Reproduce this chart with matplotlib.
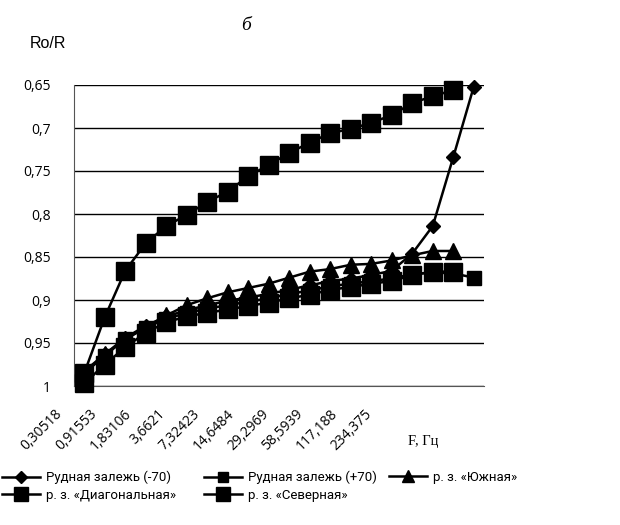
import numpy as np
import matplotlib.pyplot as plt
from matplotlib.lines import Line2D

# Frequency labels printed under the axis (every second measurement)
freq_labels = ["0,30518", "0,91553", "1,83106", "3,6621", "7,32423",
               "14,6484", "29,2969", "58,5939", "117,188", "234,375"]

# Ro/R values per frequency step (20 steps); None = no measurement
ore_minus70 = [0.983, 0.963, 0.944, 0.930, 0.919, 0.912, 0.906, 0.901, 0.897, 0.893,
               0.888, 0.883, 0.878, 0.875, 0.871, 0.866, 0.846, 0.814, 0.734, 0.652]
ore_plus70 = [0.985, 0.965, 0.945, 0.932, 0.922, 0.915, 0.910, 0.906, 0.902, 0.898,
              0.893, 0.889, 0.884, 0.881, 0.878, 0.875, 0.870, 0.868, 0.869, 0.874]
south = [0.985, 0.963, 0.946, 0.932, 0.918, 0.906, 0.898, 0.891, 0.886, 0.881,
         0.874, 0.867, 0.864, 0.859, 0.858, 0.854, 0.848, 0.843, 0.843, None]
diagonal = [0.997, 0.975, 0.955, 0.938, 0.926, 0.919, 0.915, 0.911, 0.907, 0.903,
            0.898, 0.894, 0.888, 0.885, 0.881, 0.878, 0.871, 0.867, 0.867, None]
north = [0.985, 0.920, 0.866, 0.834, 0.814, 0.801, 0.786, 0.774, 0.756, 0.743,
         0.729, 0.717, 0.706, 0.701, 0.694, 0.685, 0.671, 0.663, 0.656, None]

series_names = ["Рудная залежь (-70)", "Рудная залежь (+70)", "р. з. «Южная»",
                "р. з. «Диагональная»", "р. з. «Северная»"]
yticks = [0.65, 0.7, 0.75, 0.8, 0.85, 0.9, 0.95, 1.0]

tick_font = ["Open Sans", "DejaVu Sans"]
legend_font = ["Roboto", "DejaVu Sans"]

fig = plt.figure(figsize=(6.2, 5.25), dpi=100)
ax = fig.add_axes([74 / 620, 1 - 386 / 525, 410 / 620, 301 / 525])

x = np.arange(len(ore_minus70)) + 0.5


def to_arr(vals):
    return np.array([np.nan if v is None else v for v in vals], dtype=float)


styles = [
    dict(marker="D", ms=7.0),
    dict(marker="s", ms=9.4),
    dict(marker="^", ms=11.0),
    dict(marker="s", ms=13.5),
    dict(marker="s", ms=13.5),
]
legend_ms = [6.0, 6.5, 8.5, 9.5, 9.5]
data = [ore_minus70, ore_plus70, south, diagonal, north]

handles = []
for vals, st, name, lms in zip(data, styles, series_names, legend_ms):
    ax.plot(x, to_arr(vals), color="black", lw=1.8, marker=st["marker"],
            ms=st["ms"], mfc="black", mec="black", clip_on=False, zorder=3)
    handles.append(Line2D([], [], color="black", lw=1.8, marker=st["marker"],
                          ms=lms, mfc="black", mec="black"))

ax.set_xlim(0, len(ore_minus70))
ax.set_ylim(1.0, 0.65)
ax.set_yticks(yticks)
ax.set_yticklabels([f"{v:g}".replace(".", ",") for v in yticks],
                   fontfamily=tick_font, fontsize=10)
ax.tick_params(axis="y", length=0, pad=17)
ax.set_xticks([])
ax.grid(axis="y", color="black", lw=1.0)
ax.set_axisbelow(True)
for side in ["top", "right"]:
    ax.spines[side].set_visible(False)
ax.spines["left"].set_color("#555555")
ax.spines["bottom"].set_color("#555555")

# Rotated frequency labels along the bottom
label_start, label_step = -0.68, 1.678
for k, lab in enumerate(freq_labels):
    ax.text(label_start + label_step * k, -0.085, lab,
            transform=ax.get_xaxis_transform(), rotation=45,
            rotation_mode="anchor", ha="right", va="center",
            fontfamily=tick_font, fontsize=10, clip_on=False)

fig.text(30 / 620, 1 - 43 / 525, "Ro/R", fontfamily=["Liberation Sans", "DejaVu Sans"],
         fontsize=11.5, ha="left", va="center")
fig.text(246 / 620, 1 - 26 / 525, "б", fontfamily=["Liberation Serif", "DejaVu Serif"],
         style="italic", fontsize=14, ha="center", va="center")
fig.text(408 / 620, 1 - 442 / 525, "F, Гц", fontfamily=["Liberation Serif", "DejaVu Serif"],
         fontsize=10.5, ha="left", va="center")

# Legend laid out in three columns
columns = [([0, 3], 2 / 620), ([1, 4], 204 / 620), ([2], 389 / 620)]
for idx, x0 in columns:
    fig.legend([handles[i] for i in idx], [series_names[i] for i in idx],
               loc="upper left", bbox_to_anchor=(x0, 1 - 471 / 525),
               frameon=False, prop={"family": legend_font, "size": 9.5},
               handlelength=2.9, handletextpad=0.4, labelspacing=0.35,
               borderaxespad=0, borderpad=0)

fig.savefig("out.png", dpi=100, facecolor="white")
